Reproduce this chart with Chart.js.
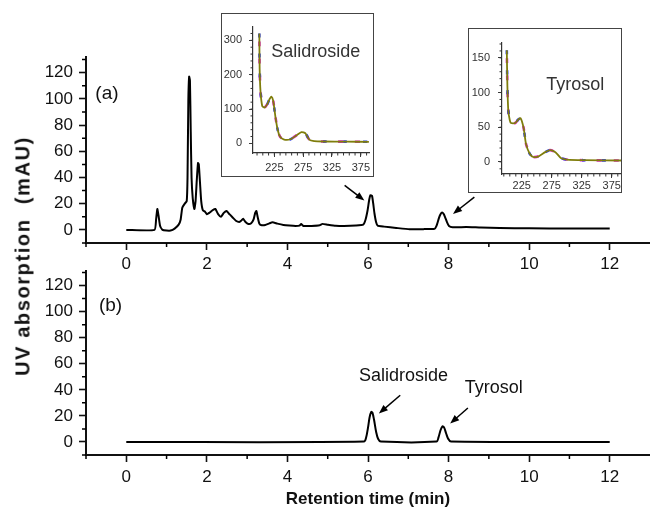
<!DOCTYPE html>
<html>
<head>
<meta charset="utf-8">
<script src="https://cdn.jsdelivr.net/npm/chart.js@4.4.1/dist/chart.umd.min.js"></script>
<style>
  html, body { margin: 0; padding: 0; background: #fff; }
  #wrap { position: relative; width: 650px; height: 511px; overflow: hidden; font-family: 'Liberation Sans', Arial, sans-serif; }
  canvas { position: absolute; }
  .frame { position: absolute; box-sizing: border-box; border: 1.5px solid #444; pointer-events: none; }
  #ytitle { position: absolute; left: 23px; top: 256px; transform: translate(-50%, -50%) rotate(-90deg);
            white-space: pre; font-weight: bold; font-size: 20px; letter-spacing: 1.6px; color: #111; }
</style>
</head>
<body>
<div id="wrap">
  <canvas id="chartA" width="650" height="275" style="left:0;top:0"></canvas>
  <canvas id="chartB" width="650" height="256" style="left:0;top:255px"></canvas>
  <canvas id="insetSal" width="153" height="164" style="left:221px;top:13px;background:#fff"></canvas>
  <div class="frame" style="left:221px;top:13px;width:153px;height:164px"></div>
  <canvas id="insetTyr" width="154" height="165" style="left:468px;top:28px;background:#fff"></canvas>
  <div class="frame" style="left:468px;top:28px;width:154px;height:165px"></div>
  <div id="ytitle">UV absorption  (mAU)</div>
</div>
<script>
// chromatogram (a): extract
const timeA = [0, 0.70, 0.74, 0.77, 0.80, 0.84, 0.90, 1.00, 1.10, 1.20, 1.30, 1.35, 1.39, 1.45, 1.50,
  1.52, 1.54, 1.56, 1.58, 1.60, 1.62, 1.65, 1.69, 1.72, 1.75, 1.78, 1.80, 1.83, 1.86, 1.90, 1.95,
  2.00, 2.06, 2.14, 2.21, 2.28, 2.35, 2.42, 2.49, 2.56, 2.64, 2.72, 2.80, 2.85, 2.90, 2.96, 3.03,
  3.10, 3.16, 3.20, 3.23, 3.26, 3.30, 3.34, 3.45, 3.55, 3.63, 3.75, 3.90, 4.05, 4.20, 4.30, 4.34,
  4.40, 4.60, 4.80, 4.87, 5.00, 5.20, 5.40, 5.70, 5.88, 5.94, 5.99, 6.03, 6.06, 6.10, 6.13, 6.16,
  6.20, 6.24, 6.40, 6.70, 7.03, 7.40, 7.65, 7.70, 7.76, 7.80, 7.84, 7.88, 7.91, 7.96, 8.01, 8.10,
  8.44, 8.80, 9.27, 10, 11, 12];
const valA = [0, 0, 8, 16, 11, 3, 0, -0.5, -0.5, 1, 4, 8, 17, 20, 22,
  40, 98, 117, 114, 75, 40, 24, 16, 22, 38, 51, 50, 36, 22, 15, 14,
  12, 13, 15, 16, 12, 10, 13, 14.5, 12, 9.5, 7, 6, 7, 8.5, 6, 4.5,
  5, 8, 13, 14.5, 10, 5, 3.8, 3.8, 5, 5.8, 4.8, 3.8, 3.3, 3, 3.3, 4.5,
  3, 3, 3.5, 4.6, 4, 3.2, 3, 3.3, 4, 8, 15, 23, 26.5, 26, 20, 12.7,
  6, 3.2, 2.5, 1.5, 0.5, 0.6, 0.8, 3, 9, 12, 13.2, 12, 10, 6, 3, 2,
  2.2, 1.8, 1.5, 1.2, 1, 1];

// chromatogram (b): standards
const timeB = [0, 5.90, 5.95, 6.00, 6.04, 6.08, 6.11, 6.15, 6.20, 6.25, 6.32,
  7.70, 7.75, 7.80, 7.85, 7.89, 7.94, 7.99, 8.06, 12];
const valB = [0, 0.3, 3, 11, 19, 23, 22.5, 17, 8, 2.5, 0.3,
  0.3, 3.5, 9, 12, 11, 6.5, 2.5, 0.3, 0];

// UV spectra in the insets
const salWl  = [199, 199.5, 201, 204, 208, 213, 217, 220, 223, 227, 231, 235, 242, 253, 264, 272, 279, 286, 294, 310, 350, 389];
const salAbs = [320, 219, 152, 109, 104, 115, 130, 136, 124, 76, 38, 19, 11, 12, 24, 33, 29, 10, 6.5, 5.5, 5, 4.5];
const tyrWl  = [200, 201, 202.5, 205, 207, 214, 219, 223, 228, 232, 238, 244, 253, 264, 272, 281, 290, 300, 328, 392];
const tyrAbs = [161, 109, 74, 60, 56, 56, 61, 63, 49, 26, 12, 7, 8, 14, 17, 14, 5.6, 3.3, 2.4, 2];

// tick labels
const timeTicks = [0, 2, 4, 6, 8, 10, 12];
const mauTicks = [0, 20, 40, 60, 80, 100, 120];
const nmTicks = [225, 275, 325, 375];
const salTicks = [0, 100, 200, 300];
const tyrTicks = [0, 50, 100, 150];

Chart.defaults.font.family = "'Liberation Sans', Arial, sans-serif";
Chart.defaults.color = '#111';

function range(a, b, step) {
    const out = [];
    for (let v = a; v <= b + 1e-9; v += step) out.push(v);
    return out;
}

// small unlabelled ticks between the labelled ones
Chart.register({
    id: 'minorTicks',
    afterDraw(chart, args, opts) {
        if (!opts.len) return;
        const ctx = chart.ctx, xs = chart.scales.x, ys = chart.scales.y;
        ctx.save();
        ctx.strokeStyle = opts.color;
        ctx.lineWidth = opts.width;
        ctx.beginPath();
        opts.x.forEach(v => {
            const p = xs.getPixelForValue(v);
            ctx.moveTo(p, xs.top);
            ctx.lineTo(p, xs.top + opts.len);
        });
        opts.y.forEach(v => {
            const p = ys.getPixelForValue(v);
            ctx.moveTo(ys.right, p);
            ctx.lineTo(ys.right - opts.len, p);
        });
        ctx.stroke();
        ctx.restore();
    }
});

// text labels and arrows, placed in data units
Chart.register({
    id: 'notes',
    afterDatasetsDraw(chart, args, opts) {
        const ctx = chart.ctx, xs = chart.scales.x, ys = chart.scales.y;
        ctx.save();
        (opts.texts || []).forEach(t => {
            ctx.font = t.font;
            ctx.fillStyle = t.color;
            ctx.textAlign = 'center';
            ctx.textBaseline = 'middle';
            ctx.fillText(t.text, xs.getPixelForValue(t.x), ys.getPixelForValue(t.y));
        });
        (opts.arrows || []).forEach(a => {
            const x1 = xs.getPixelForValue(a[0]), y1 = ys.getPixelForValue(a[1]);
            const x2 = xs.getPixelForValue(a[2]), y2 = ys.getPixelForValue(a[3]);
            const ang = Math.atan2(y2 - y1, x2 - x1);
            const hl = 9, hw = 3.5;
            ctx.strokeStyle = '#000';
            ctx.fillStyle = '#000';
            ctx.lineWidth = 1.5;
            ctx.beginPath();
            ctx.moveTo(x1, y1);
            ctx.lineTo(x2 - Math.cos(ang) * hl * 0.8, y2 - Math.sin(ang) * hl * 0.8);
            ctx.stroke();
            ctx.beginPath();
            ctx.moveTo(x2, y2);
            ctx.lineTo(x2 - Math.cos(ang) * hl - Math.sin(ang) * hw, y2 - Math.sin(ang) * hl + Math.cos(ang) * hw);
            ctx.lineTo(x2 - Math.cos(ang) * hl + Math.sin(ang) * hw, y2 - Math.sin(ang) * hl - Math.cos(ang) * hw);
            ctx.closePath();
            ctx.fill();
        });
        ctx.restore();
    }
});

function points(xs, ys) {
    return xs.map((x, i) => ({ x: x, y: ys[i] }));
}

function axis(min, max, ticks, size, tickLen, pad, borderW, color, fontSize) {
    return {
        type: 'linear',
        min: min,
        max: max,
        afterBuildTicks: s => { s.ticks = ticks.map(v => ({ value: v })); },
        afterFit: s => { if (s.isHorizontal()) s.height = size; else s.width = size; },
        border: { display: true, color: color, width: borderW },
        grid: { display: true, drawOnChartArea: false, drawTicks: true, tickLength: tickLen, tickColor: color, tickWidth: borderW * 0.8 },
        ticks: { color: color, font: { size: fontSize }, padding: pad, maxRotation: 0, autoSkip: false }
    };
}

function baseOptions(padTop, x, y, minor, notes) {
    return {
        responsive: false,
        animation: false,
        devicePixelRatio: 1,
        layout: { padding: { top: padTop, left: 0, right: 0, bottom: 0 } },
        scales: { x: x, y: y },
        plugins: {
            legend: { display: false },
            tooltip: { enabled: false },
            minorTicks: minor,
            notes: notes
        }
    };
}

const mainMinor = { x: range(-1, 11, 2), y: range(-10, 130, 20), len: 4, width: 1.5, color: '#000' };

// panel (a)
const xA = axis(-1, 13, timeTicks, 32, 7, 4, 2, '#111', 17);
const yA = axis(-10, 132, mauTicks, 86, 7, 6, 2, '#111', 17);
new Chart(document.getElementById('chartA'), {
    type: 'line',
    data: {
        datasets: [{
            data: points(timeA, valA),
            borderColor: '#000',
            borderWidth: 2,
            pointRadius: 0,
            fill: false,
            tension: 0.15
        }]
    },
    options: baseOptions(57, xA, yA, mainMinor, {
        texts: [{ x: -0.48, y: 104, text: '(a)', font: '19px "Liberation Sans", Arial', color: '#111' }],
        arrows: [[5.42, 34, 5.91, 22.4], [8.64, 25, 8.11, 12.2]]
    })
});

// panel (b)
const xB = axis(-1, 13, timeTicks, 56, 7, 5, 2, '#111', 17);
xB.title = { display: true, text: 'Retention time (min)', color: '#111', font: { size: 17, weight: 'bold' }, padding: { top: 0, bottom: 1 } };
const yB = axis(-10, 131, mauTicks, 86, 7, 6, 2, '#111', 17);
new Chart(document.getElementById('chartB'), {
    type: 'line',
    data: {
        datasets: [{
            data: points(timeB, valB),
            borderColor: '#000',
            borderWidth: 2,
            pointRadius: 0,
            fill: false,
            tension: 0.3
        }]
    },
    options: baseOptions(14, xB, yB, mainMinor, {
        texts: [
            { x: -0.39, y: 104.6, text: '(b)', font: '19px "Liberation Sans", Arial', color: '#111' },
            { x: 6.88, y: 50.5, text: 'Salidroside', font: '18px "Liberation Sans", Arial', color: '#111' },
            { x: 9.12, y: 41.4, text: 'Tyrosol', font: '18px "Liberation Sans", Arial', color: '#111' }
        ],
        arrows: [[6.80, 35.8, 6.27, 21.8], [8.48, 26.1, 8.04, 14.2]]
    })
});

// spectrum lines: olive on top (order 0), magenta and blue runs just peeking out beneath
function spectrum(wl, abs) {
    const pts = points(wl, abs);
    return [
        { data: pts, order: 0, borderColor: '#7f7d0c', borderWidth: 1.8, pointRadius: 0, tension: 0.2 },
        { data: pts, order: 1, borderColor: '#2a3cf0', borderWidth: 2.6, borderDash: [4, 16], pointRadius: 0, tension: 0.2 },
        { data: pts, order: 2, borderColor: '#e020c8', borderWidth: 2.6, borderDash: [5, 12], borderDashOffset: 9, pointRadius: 0, tension: 0.2 }
    ];
}

new Chart(document.getElementById('insetSal'), {
    type: 'line',
    data: { datasets: spectrum(salWl, salAbs) },
    options: baseOptions(11,
        axis(188, 390, nmTicks, 24, 4, 4, 1.2, '#333', 11),
        axis(-28, 340, salTicks, 32, 4, 7, 1.2, '#333', 11),
        { x: range(195, 385, 10), y: range(20, 320, 20), len: 2.5, width: 1, color: '#333' },
        { texts: [{ x: 297, y: 266, text: 'Salidroside', font: '18px "Liberation Sans", Arial', color: '#333' }] })
});

new Chart(document.getElementById('insetTyr'), {
    type: 'line',
    data: { datasets: spectrum(tyrWl, tyrAbs) },
    options: baseOptions(10,
        axis(192, 392, nmTicks, 19, 4, 1, 1.2, '#333', 11),
        axis(-17.5, 172, tyrTicks, 34, 4, 8, 1.2, '#333', 11),
        { x: range(195, 385, 10), y: range(-10, 170, 10), len: 2.5, width: 1, color: '#333' },
        { texts: [{ x: 314, y: 111, text: 'Tyrosol', font: '18px "Liberation Sans", Arial', color: '#333' }] })
});
</script>
</body>
</html>
